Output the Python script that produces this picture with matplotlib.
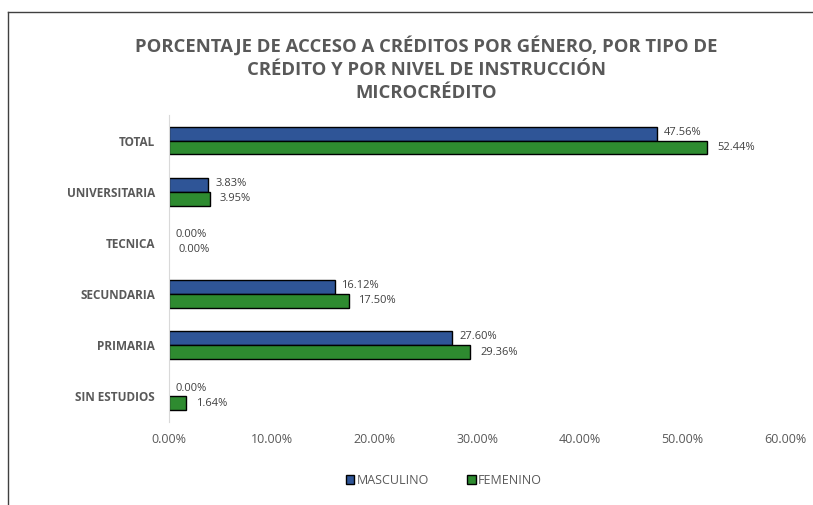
import numpy as np
import matplotlib.pyplot as plt
from matplotlib.lines import Line2D
from matplotlib.patches import Patch

categories = ['TOTAL', 'UNIVERSITARIA', 'TECNICA', 'SECUNDARIA', 'PRIMARIA', 'SIN ESTUDIOS']
masculino = [47.56, 3.83, 0.00, 16.12, 27.60, 0.00]
femenino = [52.44, 3.95, 0.00, 17.50, 29.36, 1.64]
series_names = ['MASCULINO', 'FEMENINO']
title = 'PORCENTAJE DE ACCESO A CRÉDITOS POR GÉNERO, POR TIPO DE\nCRÉDITO Y POR NIVEL DE INSTRUCCIÓN\nMICROCRÉDITO'

blue = '#2F5597' ; green = '#2E8B30' ; gray = '#595959'
plt.rcParams['font.family'] = ['Open Sans', 'DejaVu Sans']

fig = plt.figure(figsize=(8.13, 5.05), dpi=100)
ax = fig.add_axes([0.2079, 0.1644, 0.7577, 0.6079])

y = np.arange(len(categories)) ; h = 0.27
# no outline on empty bars
ax.barh(y - h / 2, masculino, height=h, color=blue, edgecolor='black',
        linewidth=[1 if v > 0 else 0 for v in masculino])
ax.barh(y + h / 2, femenino, height=h, color=green, edgecolor='black',
        linewidth=[1 if v > 0 else 0 for v in femenino])
for yy, m, f in zip(y, masculino, femenino):
    ax.annotate('{:.2f}%'.format(m), (m, yy - h / 2), xytext=(5, 1), textcoords='offset points',
                va='center', ha='left', fontsize=8, color='#404040')
    ax.annotate('{:.2f}%'.format(f), (f, yy + h / 2), xytext=(7, 0), textcoords='offset points',
                va='center', ha='left', fontsize=8, color='#404040')

ax.set_xlim(0, 60) ; ax.set_ylim(5.5, -0.5)
ax.set_xticks(np.arange(0, 61, 10))
ax.set_xticklabels(['{:.2f}%'.format(v) for v in range(0, 61, 10)], fontsize=9, color=gray)
ax.set_yticks(y)
ax.set_yticklabels(categories, fontsize=8.5, fontweight='bold', color=gray)
ax.tick_params(length=0, pad=10)
ax.tick_params(axis='x', pad=8)
for s in ('top', 'right', 'bottom'):
    ax.spines[s].set_visible(False)
ax.spines['left'].set_color('#D9D9D9')

fig.text(0.524, 0.863, title, ha='center', va='center', fontsize=13.3, fontweight='bold',
         color=gray, linespacing=1.38)

handles = [Patch(facecolor=blue, edgecolor='black'), Patch(facecolor=green, edgecolor='black')]
fig.legend(handles, series_names, loc='center', bbox_to_anchor=(0.546, 0.049), ncol=2, frameon=False,
           fontsize=9, handlelength=0.7, handleheight=0.7, handletextpad=0.2, columnspacing=3,
           labelcolor=gray)

# frame lines of the original screenshot
fig.add_artist(Line2D([8 / 813, 1], [1 - 12 / 505] * 2, color='#404040', lw=1))
fig.add_artist(Line2D([8 / 813] * 2, [0, 1 - 12 / 505], color='#404040', lw=1))

plt.savefig('out.png', dpi=100)
